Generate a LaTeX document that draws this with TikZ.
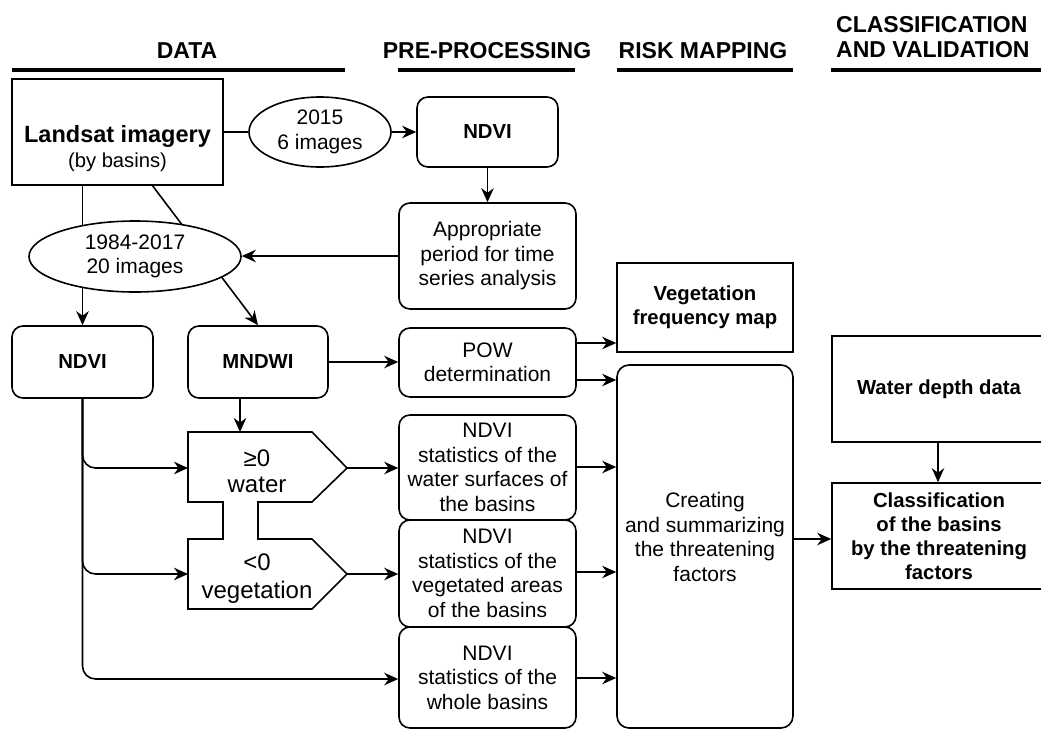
\documentclass[tikz,border=0pt]{standalone}
\usepackage{fontspec}
\setmainfont{Liberation Sans}
\usetikzlibrary{shapes.geometric,arrows.meta,backgrounds,calc}
\newcommand\regf{\fontsize{21}{24.5}\selectfont}
\newcommand\boldf{\fontsize{20.3}{24}\selectfont\bfseries}
\newcommand\hdrf{\fontsize{23}{25}\selectfont\bfseries}
\newcommand\pentf{\fontsize{24}{27}\selectfont}
\tikzset{
  lw/.style={line width=1.6pt},
  rbox/.style={draw, lw, rounded corners=11pt, fill=white, align=center, inner sep=0pt, font=\regf},
  sbox/.style={draw, lw, fill=white, align=center, inner sep=0pt, font=\boldf},
  ell/.style={ellipse, draw, lw, fill=white, align=center, inner sep=0pt, font=\regf},
  arr/.style={lw, -{Stealth[length=14pt,width=12.5pt,inset=4.5pt]}},
  hdr/.style={font=\hdrf, anchor=base, inner sep=0pt},
  hline/.style={line width=4.5pt},
  txt/.style={anchor=base, inner sep=0pt},
}
\begin{document}
\begin{tikzpicture}[x=1pt,y=-1pt]
\useasboundingbox (0,0) rectangle (1041,729);

% headers
\node[hdr] (hdata) at (187,58) {DATA};
\node[hdr] (hpre) at (487,58) {PRE-PROCESSING};
\node[hdr] (hrisk) at (703,58) {RISK MAPPING};
\node[hdr, anchor=base west] (hcl1) at (836,32) {CLASSIFICATION};
\node[hdr, anchor=base west] (hcl2) at (836,57) {AND VALIDATION};
\draw[hline] (12,70) -- (345,70);
\draw[hline] (398,70) -- (575,70);
\draw[hline] (617,70) -- (793,70);
\draw[hline] (831,70) -- (1041,70);

% data column
\node[sbox, minimum width=211pt, minimum height=106pt] (landsat) at (117.5,132) {};
\node[txt, font=\fontsize{23.5}{26}\selectfont\bfseries] (landsatA) at (117.5,142) {Landsat imagery};
\node[txt, font=\fontsize{20.2}{24}\selectfont] (landsatB) at (117.5,167) {(by basins)};

\node[ell, minimum width=142pt, minimum height=70pt] (e2015) at (320,132) {2015\\6 images};
\node[ell, minimum width=212pt, minimum height=71pt] (e1984) at (135,256.5) {1984-2017\\20 images};

\node[rbox, font=\boldf, minimum width=141pt, minimum height=72pt] (ndvi2) at (82.5,362) {NDVI};
\node[rbox, font=\boldf, minimum width=140pt, minimum height=72pt] (mndwi) at (258,362) {MNDWI};

% pre-processing column
\node[rbox, font=\boldf, minimum width=141pt, minimum height=70pt] (ndviT) at (487.5,132) {NDVI};
\node[rbox, minimum width=177pt, minimum height=106pt] (approp) at (487.5,256) {Appropriate\\period for time\\series analysis};
\node[rbox, minimum width=177pt, minimum height=69pt] (pow) at (487.5,362.5) {POW\\determination};
\node[rbox, minimum width=177pt, minimum height=105pt] (statsW) at (487.5,467.5) {NDVI\\statistics of the\\water surfaces of\\the basins};
\node[rbox, minimum width=177pt, minimum height=107pt] (statsV) at (487.5,573.5) {NDVI\\statistics of the\\vegetated areas\\of the basins};
\node[rbox, minimum width=177pt, minimum height=101pt] (statsA) at (487.5,677.5) {NDVI\\statistics of the\\whole basins};

% threshold shapes
\draw[lw] (188,432) -- (312,432) -- (347,468) -- (312,502) -- (258,502) -- (258,539)
  -- (312,539) -- (347,574) -- (312,609) -- (188,609) -- (188,539) -- (223,539)
  -- (223,502) -- (188,502) -- cycle;
\node[txt, font=\pentf] (wA) at (257,466) {≥0};
\node[txt, font=\pentf] (wB) at (257,492) {water};
\node[txt, font=\pentf] (vA) at (257,570) {<0};
\node[txt, font=\pentf] (vB) at (257,598) {vegetation};
\coordinate (wtop) at (240,432);
\coordinate (wleft) at (188,468);
\coordinate (wtip) at (347,468);
\coordinate (vleft) at (188,574);
\coordinate (vtip) at (347,574);

% risk mapping column
\node[sbox, minimum width=176pt, minimum height=89pt] (vegf) at (705,307.5) {Vegetation\\frequency map};
\node[rbox, rounded corners=12pt, minimum width=176pt, minimum height=363pt] (creating) at (705,546.5) {};
\node[font=\regf, align=center, inner sep=0pt] (creatingT) at (705,537) {Creating\\and summarizing\\the threatening\\factors};

% classification column
\node[sbox, minimum width=214pt, minimum height=106pt] (wdepth) at (939,389) {Water depth data};
\node[sbox, minimum width=214pt, minimum height=106pt] (classif) at (939,536) {Classification\\of the basins\\by the threatening\\factors};

% connectors
\coordinate (ls2) at (152,185);
\begin{scope}[on background layer]
  \fill[white] (0,0) rectangle (1041,729);
  \draw[arr] (ndvi2 |- landsat.south) -- (ndvi2.north);
  \draw[arr] (ls2) -- (mndwi.north);
\end{scope}
\draw[lw] (landsat) -- (e2015);
\draw[arr] (e2015) -- (ndviT);
\draw[arr] (ndviT) -- (approp);
\draw[arr] (approp.west) -- (approp.west -| e1984.east);
\draw[arr] (mndwi.east) -- (mndwi.east -| pow.west);
\draw[arr] (mndwi.south -| wtop) -- (wtop);
\draw[arr, rounded corners=13pt] (ndvi2.south) |- (wleft);
\draw[arr, rounded corners=13pt] (ndvi2.south) |- (vleft);
\draw[arr, rounded corners=13pt] (ndvi2.south) |- (statsA.west |- 0,679);
\draw[arr] (wtip) -- (wtip -| statsW.west);
\draw[arr] (vtip) -- (vtip -| statsV.west);
\draw[arr] (pow.east |- 0,343) -- (vegf.west |- 0,343);
\draw[arr] (pow.east |- 0,380) -- (creating.west |- 0,380);
\draw[arr] (statsW.east |- 0,467) -- (creating.west |- 0,467);
\draw[arr] (statsV.east |- 0,572) -- (creating.west |- 0,572);
\draw[arr] (statsA.east |- 0,678) -- (creating.west |- 0,678);
\draw[arr] (creating.east |- 0,539) -- (classif.west |- 0,539);
\draw[arr] (wdepth.south -| 938,0) -- (classif.north -| 938,0);
\end{tikzpicture}
\end{document}
